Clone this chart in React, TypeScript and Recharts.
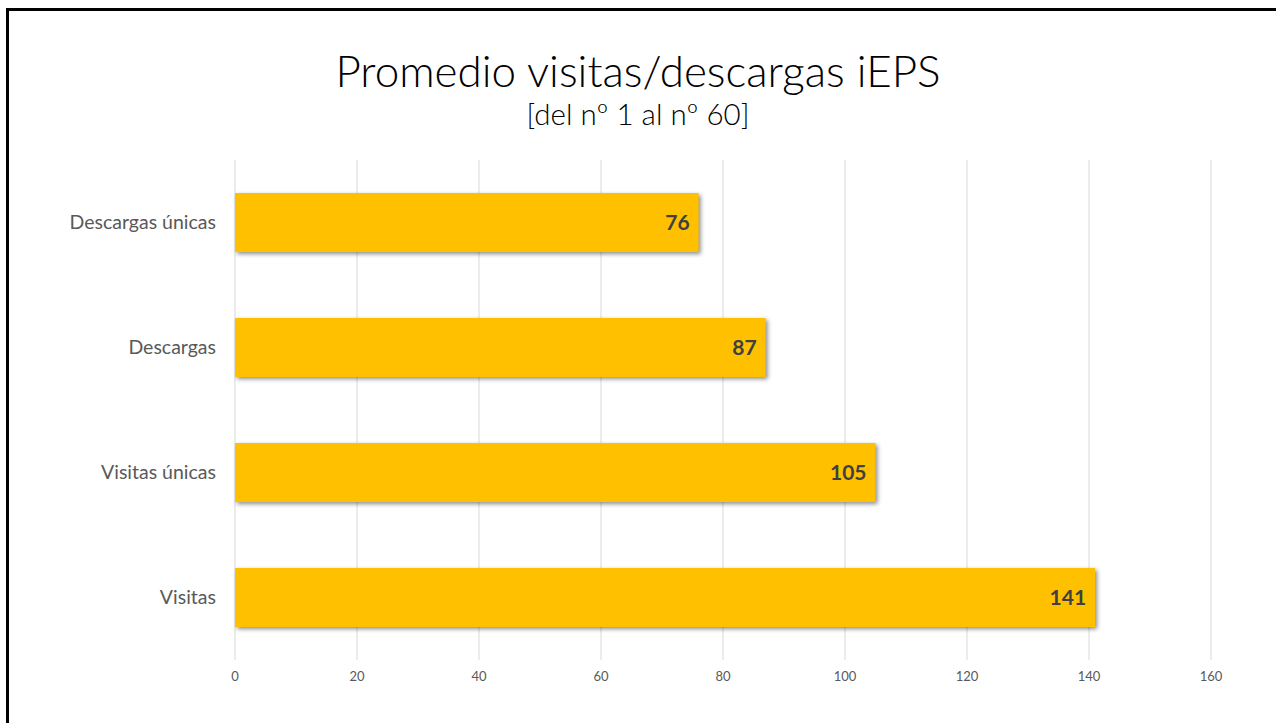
import { BarChart, Bar, XAxis, YAxis, CartesianGrid, LabelList } from "recharts"

// Datos (de arriba a abajo)
const categorias = ["Descargas únicas", "Descargas", "Visitas únicas", "Visitas"]
const promedios = [76, 87, 105, 141]
const ticksX = [0, 20, 40, 60, 80, 100, 120, 140, 160]

const data = categorias.map((nombre, i) => ({ nombre, valor: promedios[i] }))

const FONT = "Lato, 'Open Sans', sans-serif"

const BarraSombra = (props: any) => {
  const { x, y, width, height, fill } = props
  return (
    <rect
      x={x}
      y={y}
      width={width}
      height={height}
      fill={fill}
      style={{ filter: "drop-shadow(2px 2px 2px rgba(0,0,0,0.45))" }}
    />
  )
}

export default function App() {
  return (
    <div
      style={{
        position: "absolute",
        left: 6,
        top: 8,
        width: 1270,
        height: 715,
        boxSizing: "border-box",
        borderTop: "3px solid #000",
        borderLeft: "3px solid #000",
        background: "#fff",
        overflow: "hidden",
        fontFamily: FONT,
      }}
    >
      {/* capa con coordenadas de página */}
      <div style={{ position: "absolute", left: -9, top: -11, width: 1276, height: 723 }}>
        <div
          style={{
            position: "absolute",
            left: 0,
            width: 1276,
            top: 48,
            textAlign: "center",
            fontSize: 44,
            fontWeight: 300,
            color: "#000",
            lineHeight: "44px",
          }}
        >
          Promedio visitas/descargas iEPS
        </div>
        <div
          style={{
            position: "absolute",
            left: 0,
            width: 1276,
            top: 99,
            textAlign: "center",
            fontSize: 29.5,
            fontWeight: 300,
            color: "#000",
            lineHeight: "30px",
          }}
        >
          [del nº 1 al nº 60]
        </div>
        <BarChart
          width={1276}
          height={723}
          data={data}
          layout="vertical"
          margin={{ top: 160, right: 65, bottom: 23, left: 0 }}
          style={{ position: "absolute", left: 0, top: 0 }}
        >
          <CartesianGrid horizontal={false} stroke="#d9d9d9" strokeWidth={1} />
          <XAxis
            type="number"
            domain={[0, 160]}
            ticks={ticksX}
            axisLine={false}
            tickLine={false}
            tickSize={0}
            tickMargin={12}
            height={40}
            tick={{ fill: "#595959", fontSize: 13, fontFamily: FONT }}
          />
          <YAxis
            type="category"
            dataKey="nombre"
            width={235}
            axisLine={false}
            tickLine={false}
            tickSize={0}
            tickMargin={19}
            tick={{ fill: "#595959", fontSize: 19.5, fontFamily: FONT }}
          />
          <Bar dataKey="valor" fill="#ffc000" barSize={59} shape={<BarraSombra />} isAnimationActive={false}>
            <LabelList
              dataKey="valor"
              position="insideRight"
              offset={9}
              fill="#404040"
              fontSize={21}
              fontWeight={700}
              fontFamily={FONT}
            />
          </Bar>
        </BarChart>
      </div>
    </div>
  )
}
